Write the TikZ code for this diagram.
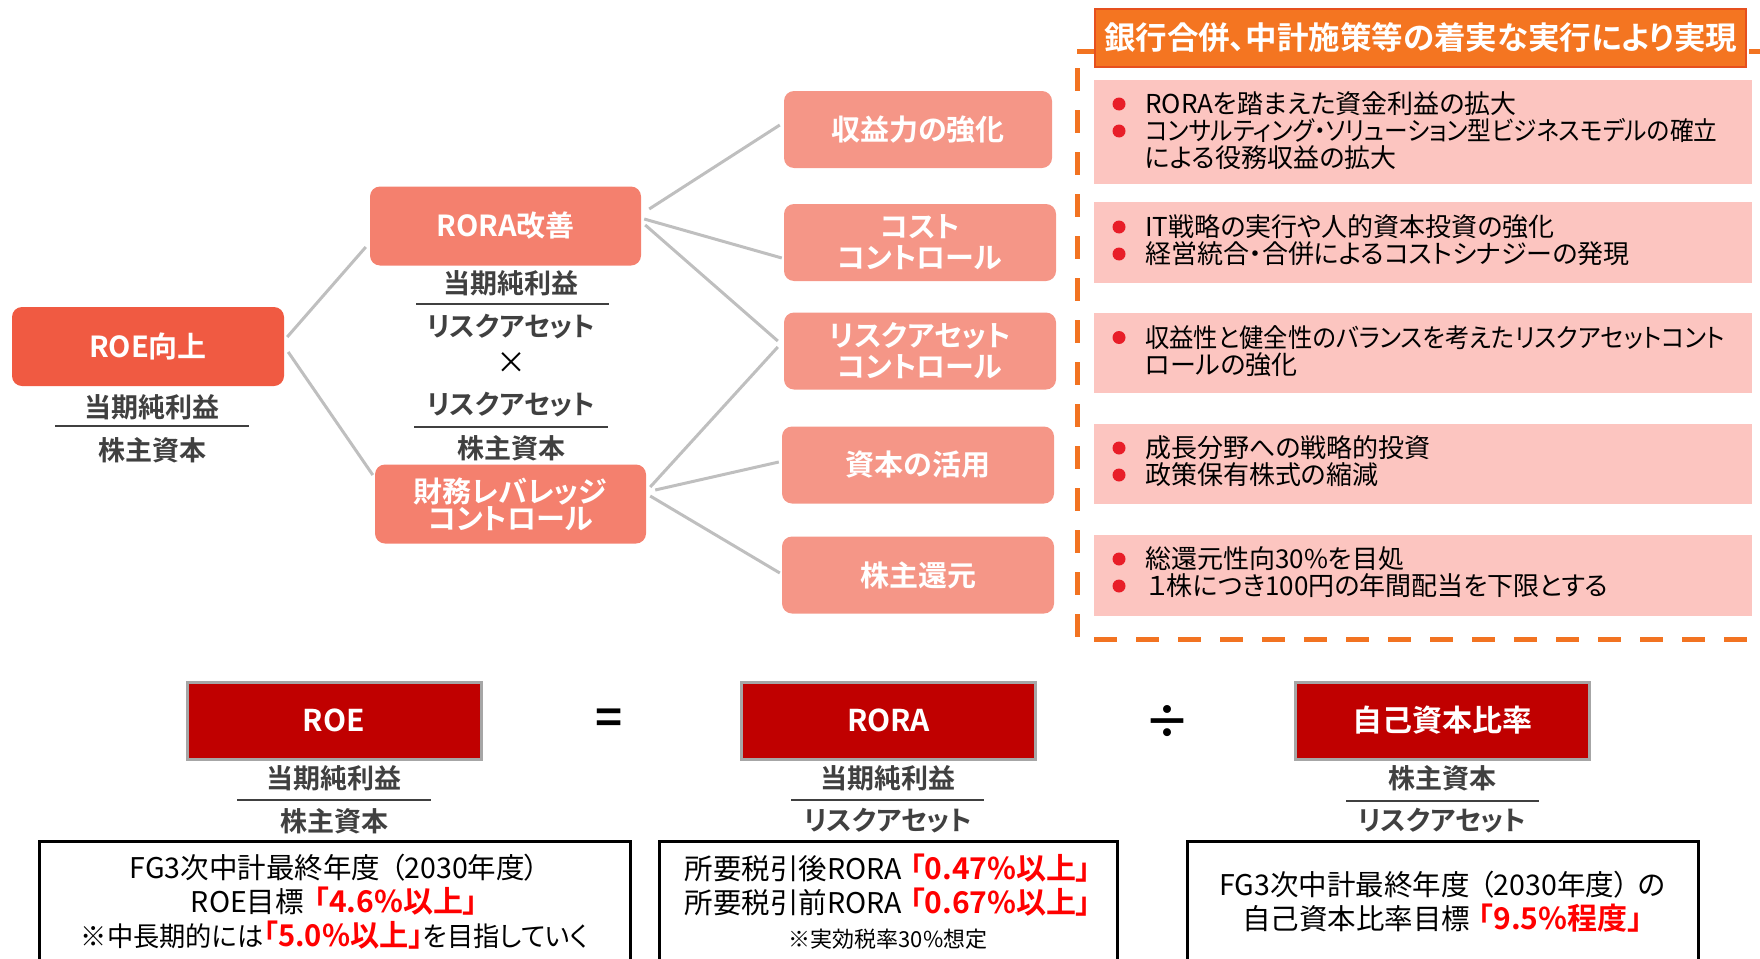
\documentclass[tikz,border=0pt]{standalone}
\usepackage{fontspec}
\setmainfont{Noto Sans CJK JP}[BoldFont={* Bold},RawFeature=+palt]
\usepackage{graphicx}
\usepackage{tikz}
\usetikzlibrary{positioning}

\definecolor{roeorange}{RGB}{240,90,66}
\definecolor{roraorange}{RGB}{244,128,110}
\definecolor{subsalmon}{RGB}{245,150,135}
\definecolor{linkgray}{RGB}{191,191,191}
\definecolor{fracgray}{RGB}{64,64,64}
\definecolor{planorange}{RGB}{244,117,33}
\definecolor{planedge}{RGB}{230,80,30}
\definecolor{dashorange}{RGB}{242,115,33}
\definecolor{planpink}{RGB}{252,197,192}
\definecolor{dotred}{RGB}{232,30,40}
\definecolor{kpired}{RGB}{192,0,0}
\definecolor{kpiedge}{RGB}{166,166,166}
\definecolor{hired}{RGB}{255,0,0}

\newcommand{\fsz}[2]{\fontsize{#1}{#2}\selectfont}
\newcommand{\redpart}[1]{{\bfseries\color{hired}\fsz{30}{34}#1}}
\newcommand{\squeeze}[2]{\scalebox{#1}[1]{#2}}

\tikzset{%
  treenode/.style  = {shape=rectangle, rounded corners=10pt,%
                      align=center, text=white,%
                      font=\bfseries\fsz{29}{31}},%
  root/.style      = {treenode, fill=roeorange,%
                      minimum width=272pt, minimum height=79pt},%
  branch/.style    = {treenode, fill=roraorange,%
                      minimum width=271pt, minimum height=79pt},%
  measure/.style   = {treenode, fill=subsalmon,%
                      minimum width=272pt, minimum height=77pt},%
  frac/.style      = {font=\bfseries\fsz{27}{27}, text=fracgray},%
  plantitle/.style = {shape=rectangle, fill=planorange, draw=planedge,%
                      line width=2pt, text=white, font=\bfseries\fsz{31.5}{31.5},%
                      minimum width=651pt, minimum height=58pt},%
  planbox/.style   = {shape=rectangle, fill=planpink,%
                      minimum width=658pt},%
  planitem/.style  = {anchor=west, align=left, font=\fsz{26}{27}},%
  kpi/.style       = {shape=rectangle, draw=kpiedge, line width=3pt,%
                      fill=kpired, text=white, font=\bfseries\fsz{30}{30},%
                      minimum width=294pt, minimum height=77pt},%
  notebox/.style   = {shape=rectangle, draw=black, line width=3pt,%
                      anchor=north, minimum height=160pt},%
  notetext/.style  = {align=center, font=\fsz{28.5}{34}}%
}

\begin{document}
\begin{tikzpicture}[x=1pt,y=-1pt,
	every node/.style = {inner sep=0pt},
	link/.style       = {draw=linkgray, line width=3pt},
	bar/.style        = {draw=fracgray, line width=2.5pt},
	dashline/.style   = {draw=dashorange, line width=5pt, dash pattern=on 23pt off 19pt},
	op/.style         = {font=\bfseries\fsz{46}{46}}]
	\useasboundingbox (0,0) rectangle (1760,958);
	% ROE tree
	\node[root] (roe) at (148,346.5) {ROE向上};
	\node[frac] (roeNum) at (152,407) {当期純利益};
	\node[frac] (roeDen) at (152,450) {株主資本};
	\draw[bar] (55,426) -- (249,426);
	\node[branch] (rora) at (505.5,226) {RORA改善};
	\node[frac] (roraNum) at (511,283) {当期純利益};
	\node[frac] (roraDen) at (511,327) {リスクアセット};
	\node[font=\fsz{30}{30}] (times) at (511,363) {×};
	\node[frac] (levNum) at (511,405) {リスクアセット};
	\node[frac] (levDen) at (511,448) {株主資本};
	\draw[bar] (416,304) -- (609,304);
	\draw[bar] (414,427) -- (608,427);
	\node[branch, font=\bfseries\fsz{29}{27}] (lev) at (510.5,504) {財務レバレッジ\\コントロール};
	% measures
	\node[measure, minimum width=268pt] (earn) at (918,129.5) {収益力の強化};
	\node[measure] (cost) at (920,242.5) {コスト\\コントロール};
	\node[measure] (risk) at (920,351) {リスクアセット\\コントロール};
	\node[measure] (capital) at (918,465) {資本の活用};
	\node[measure] (payout) at (918,575) {株主還元};
	\draw[link] ([shift={(3,-9.5)}]roe.east) -- ([shift={(-4,21)}]rora.west);
	\draw[link] ([shift={(4,5.5)}]roe.east) -- ([shift={(-2,-29)}]lev.west);
	\draw[link] ([shift={(8,-17)}]rora.east) -- ([shift={(-4,-4.5)}]earn.west);
	\draw[link] ([shift={(3,-7)}]rora.east) -- ([shift={(-2,15.5)}]cost.west);
	\draw[link] ([shift={(4,-1)}]rora.east) -- ([shift={(-6,-10)}]risk.west);
	\draw[link] ([shift={(4,-17)}]lev.east) -- ([shift={(-6,-4)}]risk.west);
	\draw[link] ([shift={(9,-14)}]lev.east) -- ([shift={(-3,-3)}]capital.west);
	\draw[link] ([shift={(4,-8)}]lev.east) -- ([shift={(-2,-2)}]payout.west);
	% plan frame
	\draw[dashline, dash phase=26pt] (1077,52) -- (1077,639) -- (1790,639);
	\draw[dashline] (1077,52) -- (1790,52);
	\node[plantitle] (title) at (1420.5,38) {銀行合併、中計施策等の着実な実行により実現};
	\node[planbox, minimum height=104pt] (plan1) at (1423,132) {};
	\node[planbox, minimum height=81pt] (plan2) at (1423,242.5) {};
	\node[planbox, minimum height=80pt] (plan3) at (1423,353) {};
	\node[planbox, minimum height=80pt] (plan4) at (1423,464) {};
	\node[planbox, minimum height=81pt] (plan5) at (1423,575.5) {};
	\node[planitem] (item1) at (1145,131) {RORAを踏まえた資金利益の拡大\\\squeeze{0.91}{コンサルティング・ソリューション型ビジネスモデルの確立}\\による役務収益の拡大};
	\node[planitem] (item2) at (1145,240.5) {IT戦略の実行や人的資本投資の強化\\経営統合・合併によるコストシナジーの発現};
	\node[planitem] (item3) at (1145,351) {\squeeze{0.935}{収益性と健全性のバランスを考えたリスクアセットコント}\\ロールの強化};
	\node[planitem] (item4) at (1145,461.5) {成長分野への戦略的投資\\政策保有株式の縮減};
	\node[planitem] (item5) at (1145,572.5) {総還元性向30\%を目処\\\hspace{2pt}１株につき100円の年間配当を下限とする};
	\foreach \y in {104,131,227,254,337.5,448,475,559,586}
		\fill[dotred] (1119,\y) circle (6.5pt);
	% KPI row
	\node[kpi] (kroe) at (334,720.5) {ROE};
	\node[kpi] (krora) at (888.5,720.5) {RORA};
	\node[kpi] (kcar) at (1442.5,720.5) {自己資本比率};
	\node[op] (eq) at (609,722) {=};
	\node[op] (div) at (1167,722) {÷};
	\node[frac] (kroeNum) at (334,778) {当期純利益};
	\node[frac] (kroeDen) at (334,821) {株主資本};
	\draw[bar] (237,800) -- (431,800);
	\node[frac] (kroraNum) at (888,778) {当期純利益};
	\node[frac] (kroraDen) at (888,821) {リスクアセット};
	\draw[bar] (791,800) -- (984,800);
	\node[frac] (kcarNum) at (1442,778) {株主資本};
	\node[frac] (kcarDen) at (1442,821) {リスクアセット};
	\draw[bar] (1346,801) -- (1539,801);
	\node[notebox, minimum width=591pt] (noteroe) at (334.5,840) {};
	\node[notebox, minimum width=458pt] (noterora) at (888,840) {};
	\node[notebox, minimum width=511pt] (notecar) at (1442.5,840) {};
	\node[notetext] (noteroeText) at (334.5,902) {FG3次中計最終年度\hspace{10pt}（2030年度）\hspace{8pt}\\ROE目標\hspace{10pt}\redpart{「4.6\%以上」}\\\squeeze{0.972}{\fsz{27}{34}※中長期的には\redpart{「5.0\%以上」}を目指していく}};
	\node[notetext] (noteroraText) at (888,902) {所要税引後RORA\hspace{8pt}\redpart{「0.47\%以上」}\\所要税引前RORA\hspace{8pt}\redpart{「0.67\%以上」}\\{\fsz{22}{30}※実効税率30\%想定}};
	\node[notetext] (notecarText) at (1442.5,901.5) {FG3次中計最終年度\hspace{10pt}（2030年度）\hspace{10pt}の\\自己資本比率目標\hspace{8pt}\redpart{「9.5\%程度」}};
\end{tikzpicture}
\end{document}
